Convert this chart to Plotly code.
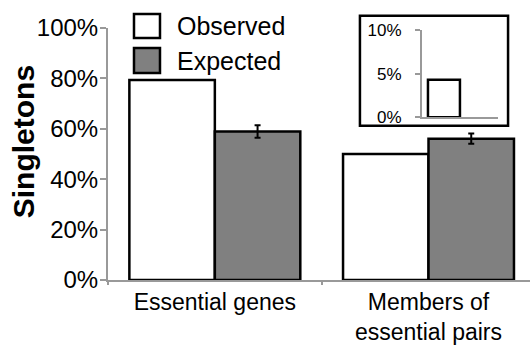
import plotly.graph_objects as go

categories = ["Essential genes", "Members of<br>essential pairs"]
observed = [79.4, 50.0]
expected = [58.9, 56.1]
expected_err = [2.5, 2.0]
y_ticks = [0, 20, 40, 60, 80, 100]
y_tick_labels = ["0%", "20%", "40%", "60%", "80%", "100%"]

inset_observed = [4.3]
inset_ticks = [0, 5, 10]
inset_tick_labels = ["0%", "5%", "10%"]

FONT = "Arial, Liberation Sans, sans-serif"
AX = "#999999"
GREY = "#808080"

fig = go.Figure()
fig.add_trace(go.Bar(x=categories, y=observed, name="Observed",
                     marker=dict(color="white", line=dict(color="black", width=2.5)),
                     showlegend=False))
fig.add_trace(go.Bar(x=categories, y=expected, name="Expected",
                     marker=dict(color=GREY, line=dict(color="black", width=2.5)),
                     error_y=dict(type="data", array=expected_err, color="black",
                                  thickness=2, width=3),
                     showlegend=False))
fig.add_trace(go.Bar(x=[0], y=inset_observed, xaxis="x2", yaxis="y2", width=0.8,
                     marker=dict(color="white", line=dict(color="black", width=2.5)),
                     showlegend=False))

fig.update_layout(
    template="none",
    width=530, height=346,
    margin=dict(l=108, r=0, t=28, b=66),
    paper_bgcolor="white", plot_bgcolor="white",
    barmode="group", bargap=0.2, bargroupgap=0,
    font=dict(family=FONT, color="black"),
    xaxis=dict(range=[-0.5, 1.475], showline=True, linecolor=AX, linewidth=2,
               ticks="outside", tickson="boundaries", tickcolor=AX, ticklen=3, tickwidth=2,
               tickfont=dict(size=23), showgrid=False, zeroline=False,
               ticklabelstandoff=0, automargin=False),
    yaxis=dict(range=[0, 100], tickvals=y_ticks, ticktext=y_tick_labels,
               showline=True, linecolor=AX, linewidth=2,
               ticks="outside", tickcolor=AX, ticklen=6, tickwidth=2,
               tickfont=dict(size=24), showgrid=False, zeroline=False, automargin=False,
               ticklabelstandoff=-3),
    xaxis2=dict(domain=[0.744, 0.924], anchor="y2", range=[-0.55, 1.35],
                showline=True, linecolor=AX, linewidth=2, showticklabels=False,
                ticks="", showgrid=False, zeroline=False, automargin=False),
    yaxis2=dict(domain=[0.6456, 0.992], anchor="x2", range=[0, 10],
                tickvals=inset_ticks, ticktext=inset_tick_labels,
                showline=True, linecolor=AX, linewidth=2,
                ticks="outside", tickcolor=AX, ticklen=5, tickwidth=2,
                tickfont=dict(size=17), ticklabelstandoff=10,
                showgrid=False, zeroline=False, automargin=False),
    shapes=[
        dict(type="rect", xref="paper", yref="paper", x0=0.597, x1=0.948, y0=0.6123, y1=1.0488,
             line=dict(color="black", width=2.5), fillcolor="rgba(0,0,0,0)", layer="below"),
        dict(type="rect", xref="paper", yref="paper", x0=0.0616, x1=0.1232, y0=0.9603, y1=1.0556,
             line=dict(color="black", width=2.5), fillcolor="white"),
        dict(type="rect", xref="paper", yref="paper", x0=0.0616, x1=0.1232, y0=0.8214, y1=0.9206,
             line=dict(color="black", width=2.5), fillcolor=GREY),
    ],
    annotations=[
        dict(text="Observed", xref="paper", yref="paper", x=0.1588, y=1.0079,
             xanchor="left", yanchor="middle", showarrow=False, font=dict(size=25)),
        dict(text="Expected", xref="paper", yref="paper", x=0.1588, y=0.869,
             xanchor="left", yanchor="middle", showarrow=False, font=dict(size=25)),
        dict(text="<b>Singletons</b>", xref="paper", yref="paper", x=-0.2, y=0.549,
             xanchor="center", yanchor="middle", textangle=-90, showarrow=False,
             font=dict(size=30)),
    ],
)

fig.write_html("out.html", config={"displayModeBar": False},
               post_script="document.body.style.margin='0';")
